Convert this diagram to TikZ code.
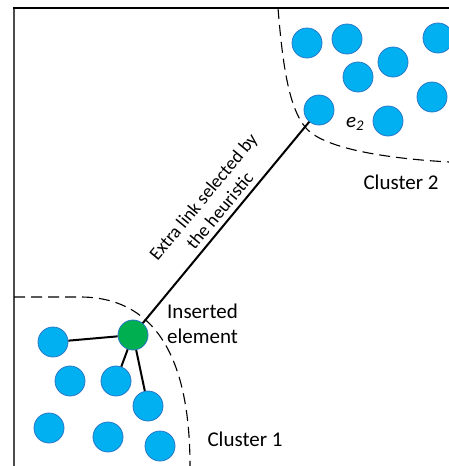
\documentclass[tikz,border=0pt]{standalone}
\usepackage{fontspec}
\setmainfont{Carlito}
\definecolor{nodeblue}{RGB}{0,176,240}
\definecolor{nodeborder}{RGB}{40,120,200}
\definecolor{nodegreen}{RGB}{0,176,80}
\tikzset{
  elem/.style={circle, minimum size=30pt, inner sep=0pt, fill=nodeblue, draw=nodeborder, line width=0.8pt},
  newelem/.style={elem, fill=nodegreen},
  link/.style={line width=2pt, black},
  clusterline/.style={line width=1.1pt, dash pattern=on 11pt off 6pt},
  lbl/.style={font=\fontsize{21}{25}\selectfont, inner sep=0pt}
}
\begin{document}
\begin{tikzpicture}[x=1pt,y=-1pt]
\useasboundingbox (0,0) rectangle (449,466);
% frame
\draw[line width=2pt, black!70] (14,8) -- (14,466);
\draw[line width=2pt, black] (13,8) -- (449,8);
% cluster boundaries
\draw[clusterline] (14,297) -- (80,297) .. controls (150,297) and (190,350) .. (190,466);
\draw[clusterline] (278,8) .. controls (283,70) and (290,115) .. (310,132) .. controls (330,148) and (380,158) .. (449,162);
% cluster 1 elements
\node[elem] (a1) at (53,342) {};
\node[elem] (a2) at (70,381) {};
\node[elem] (a3) at (116,381) {};
\node[elem] (a4) at (148,406) {};
\node[elem] (a5) at (49,428) {};
\node[elem] (a6) at (108,437) {};
\node[elem] (a7) at (160,446) {};
\node[newelem] (g) at (133,335) {};
% cluster 2 elements
\node[elem] (b1) at (307,43) {};
\node[elem] (b2) at (347,39) {};
\node[elem] (b3) at (358,77) {};
\node[elem] (b4) at (393,62) {};
\node[elem] (b5) at (438,38) {};
\node[elem] (b6) at (388,121) {};
\node[elem] (b7) at (432,97) {};
\node[elem] (b8) at (319,110) {};
% links
\draw[link] (g) -- (a1);
\draw[link] (g) -- (a3);
\draw[link] (g) -- (a4);
\draw[link] (g) -- (b8) node[pos=0.52, sloped, above=5pt, align=center, inner sep=0pt, font=\fontsize{18.5}{21.5}\selectfont] (lt) {Extra link selected by\\the heuristic};
% labels
\node[lbl, anchor=west, align=left] (ins) at (167,324) {Inserted\\element};
\node[lbl] (c1) at (245,439) {Cluster 1};
\node[lbl] (c2) at (401,182) {Cluster 2};
\node[lbl] (e2) at (355,124) {\textit{e\textsubscript{2}}};
\end{tikzpicture}
\end{document}
